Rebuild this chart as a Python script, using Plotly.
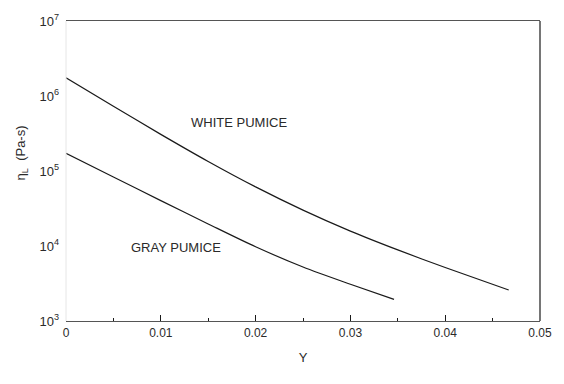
import plotly.graph_objects as go

# Melt viscosity vs. water content Y for the two pumice types
white_y = [0.0, 0.005, 0.01, 0.015, 0.02, 0.025, 0.03, 0.035, 0.04, 0.0467]
white_eta = [1.75e6, 7.29e5, 3.08e5, 1.34e5, 6.14e4, 3.01e4, 1.58e4, 8.87e3, 5.16e3, 2.59e3]

gray_y = [0.0, 0.005, 0.01, 0.015, 0.02, 0.025, 0.03, 0.0346]
gray_eta = [1.72e5, 8.32e4, 4.03e4, 1.97e4, 9.77e3, 5.25e3, 3.09e3, 1.94e3]

x_ticks = [0, 0.01, 0.02, 0.03, 0.04, 0.05]
x_tick_text = ["0", "0.01", "0.02", "0.03", "0.04", "0.05"]
y_ticks = [1e3, 1e4, 1e5, 1e6, 1e7]
y_tick_text = ["10<sup>3</sup>", "10<sup>4</sup>", "10<sup>5</sup>", "10<sup>6</sup>", "10<sup>7</sup>"]

line_color = "#1a1a1a"
text_color = "#2a2a2a"
font_family = "Liberation Sans, Arial, sans-serif"

fig = go.Figure()
fig.add_trace(go.Scatter(x=white_y, y=white_eta, mode="lines",
                         line=dict(color=line_color, width=1.2, shape="spline", smoothing=0.8),
                         name="White pumice", showlegend=False, hoverinfo="skip"))
fig.add_trace(go.Scatter(x=gray_y, y=gray_eta, mode="lines",
                         line=dict(color=line_color, width=1.2, shape="spline", smoothing=0.8),
                         name="Gray pumice", showlegend=False, hoverinfo="skip"))

fig.add_annotation(x=0.0183, y=5.645, xref="x", yref="y", text="WHITE PUMICE", showarrow=False,
                   font=dict(size=13, color=text_color, family=font_family))
fig.add_annotation(x=0.0116, y=3.98, xref="x", yref="y", text="GRAY PUMICE", showarrow=False,
                   font=dict(size=13, color=text_color, family=font_family))

# y-axis title, placed by hand left of the tick labels
fig.add_annotation(x=-0.092, y=0.56, xref="paper", yref="paper", xanchor="center", yanchor="middle",
                   text="η<sub>L</sub>  (Pa-s)", textangle=-90,
                   showarrow=False, font=dict(size=13, color=text_color, family=font_family))

# right-hand frame line
fig.add_shape(type="line", xref="paper", yref="paper", x0=1, x1=1, y0=0, y1=1,
              line=dict(color=line_color, width=1.2))
# faint left frame line
fig.add_shape(type="line", xref="paper", yref="paper", x0=0, x1=0, y0=0, y1=1,
              line=dict(color="#e6e6e6", width=1))

fig.update_layout(
    width=564, height=384,
    margin=dict(l=66, r=15, t=15, b=63),
    paper_bgcolor="white", plot_bgcolor="white",
    font=dict(family=font_family, size=12, color=text_color),
    xaxis=dict(range=[0, 0.05], tickvals=x_ticks, ticktext=x_tick_text, showgrid=False, zeroline=False,
               showline=True, mirror=True, linecolor="#555555", linewidth=1.2,
               ticks="inside", ticklen=6, tickcolor=line_color, tickwidth=1,
               tickfont=dict(size=12, color=text_color),
               minor=dict(dtick=0.005, tick0=0, ticks="inside", ticklen=3, tickcolor=line_color),
               title=dict(text="Y", standoff=14, font=dict(size=13, color=text_color))),
    yaxis=dict(type="log", range=[3, 7], tickvals=y_ticks, ticktext=y_tick_text, showgrid=False, zeroline=False,
               showline=False, ticks="", ticklabelstandoff=6, tickfont=dict(size=13, color=text_color)),
)

fig.write_html("out.html")
